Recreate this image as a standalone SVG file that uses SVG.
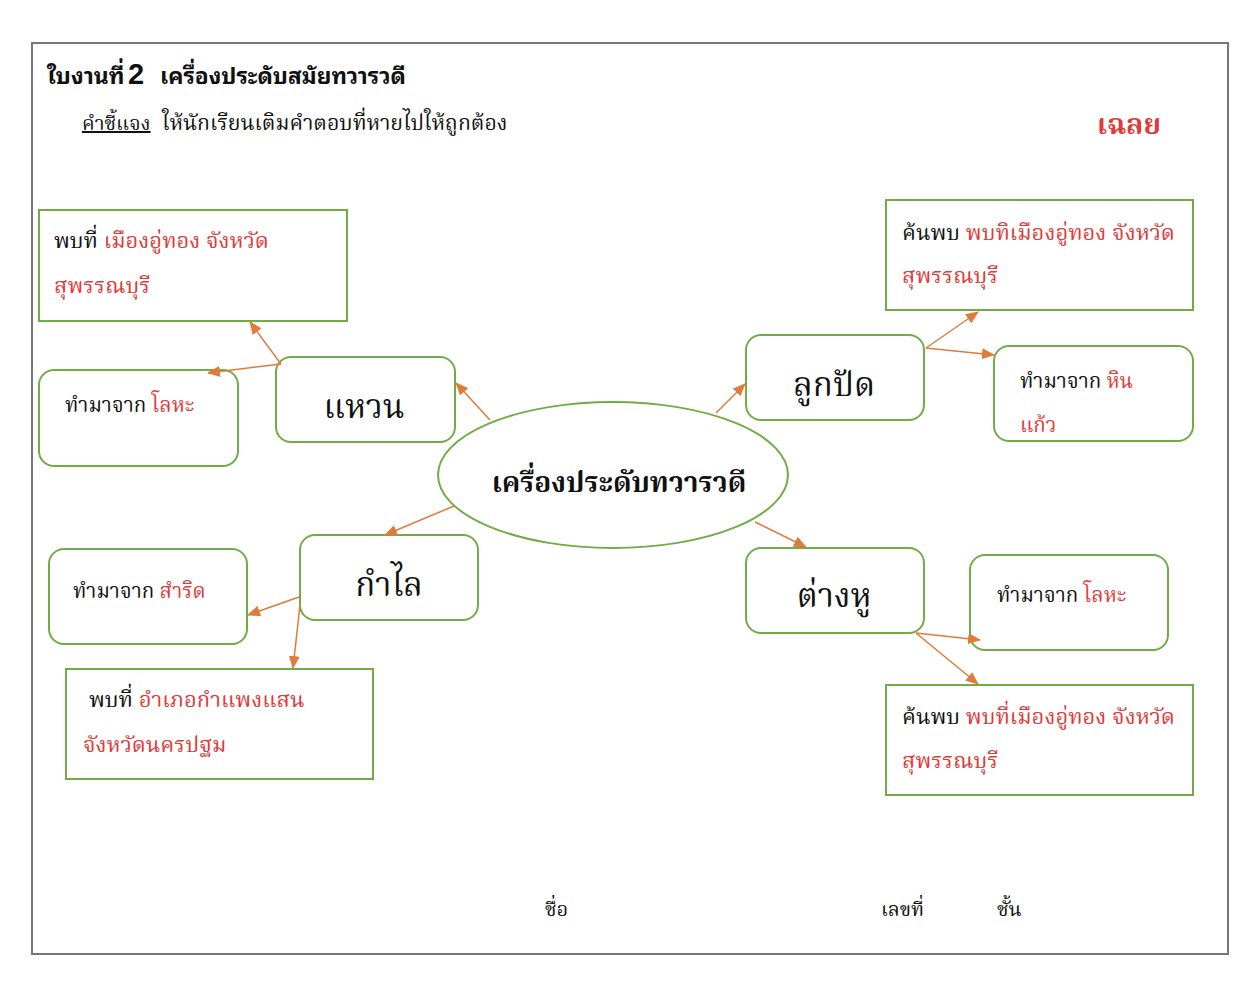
<svg xmlns="http://www.w3.org/2000/svg" width="1246" height="997" viewBox="0 0 1246 997">
<style>
text{font-family:"Noto Serif Thai","Noto Sans Thai","Noto Sans",serif;fill:#111}
.t{font-family:"Noto Sans Thai Looped","Noto Serif Thai","Noto Sans Thai",sans-serif;font-weight:bold}
.num{font-family:"Liberation Sans",Arial,sans-serif;font-weight:bold}
.r{fill:#E03A3A}
.box{fill:#fff;stroke:#70AD47;stroke-width:2}
.c{stroke:#E07B39;stroke-width:1.5;fill:none;marker-end:url(#ah)}
.s{font-size:20.5px}
.m{font-size:22px}
.big{font-size:33px}
</style>
<defs>
<marker id="ah" markerWidth="13" markerHeight="11" refX="12" refY="5.5" orient="auto" markerUnits="userSpaceOnUse">
<path d="M0,0 L13,5.5 L0,11 Z" fill="#E07B39"/>
</marker>
</defs>
<rect x="0" y="0" width="1246" height="997" fill="#fff"/>
<rect x="32" y="43" width="1196" height="911" fill="#fff" stroke="#777" stroke-width="2"/>
<g id="header">
<text x="47" y="84" font-size="23" class="t">ใบงานที่</text>
<text x="128" y="84" font-size="29" class="num">2</text>
<text x="160" y="84" font-size="22.7" class="t">เครื่องประดับสมัยทวารวดี</text>
<text x="82" y="130" font-size="20" text-decoration="underline">คำชี้แจง</text>
<text x="162" y="130" font-size="21.3">ให้นักเรียนเติมคำตอบที่หายไปให้ถูกต้อง</text>
<text x="1097" y="134" font-size="28" font-weight="bold" class="r">เฉลย</text>
</g>
<g id="n-center">
<ellipse class="box" cx="613" cy="475" rx="175" ry="73"/>
<text x="619" y="492" font-size="28" font-weight="bold" text-anchor="middle">เครื่องประดับทวารวดี</text>
</g>
<g id="n-ring">
<rect class="box" x="276" y="357" width="179" height="85" rx="15"/>
<text x="364" y="418" class="big" text-anchor="middle">แหวน</text>
</g>
<g id="n-ring-found">
<rect class="box" x="39" y="210" width="308" height="111"/>
<text x="54" y="248" class="m">พบที่ <tspan class="r">เมืองอู่ทอง จังหวัด</tspan></text>
<text x="54" y="293" class="m r">สุพรรณบุรี</text>
</g>
<g id="n-ring-made">
<rect class="box" x="39" y="370" width="199" height="96" rx="15"/>
<text x="65" y="412" class="s">ทำมาจาก <tspan class="r">โลหะ</tspan></text>
</g>
<g id="n-bead">
<rect class="box" x="746" y="335" width="178" height="85" rx="15"/>
<text x="834" y="396" class="big" text-anchor="middle">ลูกปัด</text>
</g>
<g id="n-bead-found">
<rect class="box" x="886" y="200" width="307" height="110"/>
<text x="902" y="240" class="m">ค้นพบ <tspan class="r">พบทิเมืองอู่ทอง จังหวัด</tspan></text>
<text x="902" y="283" class="m r">สุพรรณบุรี</text>
</g>
<g id="n-bead-made">
<rect class="box" x="994" y="346" width="199" height="95" rx="15"/>
<text x="1020" y="388" class="s">ทำมาจาก <tspan class="r">หิน</tspan></text>
<text x="1020" y="432" class="s r">แก้ว</text>
</g>
<g id="n-bangle">
<rect class="box" x="300" y="535" width="178" height="85" rx="15"/>
<text x="389" y="596" class="big" text-anchor="middle">กำไล</text>
</g>
<g id="n-bangle-made">
<rect class="box" x="49" y="549" width="198" height="95" rx="15"/>
<text x="73" y="598" class="s">ทำมาจาก <tspan class="r">สำริด</tspan></text>
</g>
<g id="n-bangle-found">
<rect class="box" x="66" y="669" width="307" height="110"/>
<text x="89" y="707" class="m">พบที่ <tspan class="r">อำเภอกำแพงแสน</tspan></text>
<text x="83" y="752" class="m r">จังหวัดนครปฐม</text>
</g>
<g id="n-earring">
<rect class="box" x="746" y="548" width="178" height="85" rx="15"/>
<text x="834" y="607" class="big" text-anchor="middle">ต่างหู</text>
</g>
<g id="n-earring-made">
<rect class="box" x="970" y="555" width="198" height="95" rx="15"/>
<text x="997" y="602" class="s">ทำมาจาก <tspan class="r">โลหะ</tspan></text>
</g>
<g id="n-earring-found">
<rect class="box" x="886" y="685" width="307" height="110"/>
<text x="902" y="724" class="m">ค้นพบ <tspan class="r">พบที่เมืองอู่ทอง จังหวัด</tspan></text>
<text x="902" y="768" class="m r">สุพรรณบุรี</text>
</g>
<g id="connectors">
<line class="c" x1="490" y1="420" x2="456" y2="383"/>
<line class="c" x1="281" y1="364" x2="250" y2="322"/>
<line class="c" x1="281" y1="364" x2="208" y2="373"/>
<line class="c" x1="716" y1="413" x2="745" y2="384"/>
<line class="c" x1="926" y1="348" x2="978" y2="312"/>
<line class="c" x1="926" y1="348" x2="994" y2="355"/>
<line class="c" x1="454" y1="506" x2="385" y2="535"/>
<line class="c" x1="299" y1="597" x2="248" y2="615"/>
<line class="c" x1="300" y1="605" x2="293" y2="668"/>
<line class="c" x1="755" y1="522" x2="806" y2="547"/>
<line class="c" x1="916" y1="633" x2="980" y2="640"/>
<line class="c" x1="916" y1="633" x2="978" y2="684"/>
</g>
<g id="footer">
<text x="545" y="916" font-size="20">ชื่อ</text>
<text x="881" y="916" font-size="20">เลขที่</text>
<text x="997" y="916" font-size="20">ชั้น</text>
</g>
</svg>
